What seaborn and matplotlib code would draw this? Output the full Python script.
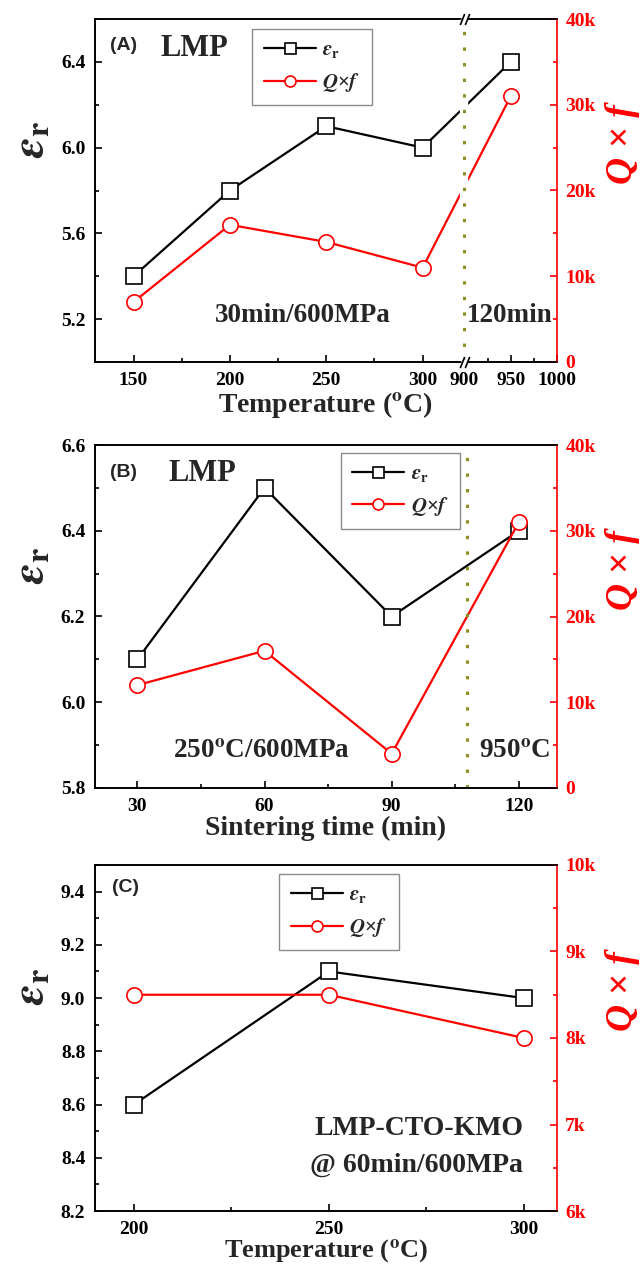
import numpy as np
import matplotlib
matplotlib.use("Agg")
import matplotlib.pyplot as plt
import matplotlib.ticker as mticker
import seaborn as sns

# Panel A: sintering temperature (30 min / 600 MPa, 950 is the 120 min reference)
a_temp = [150, 200, 250, 300, 950]
a_eps = [5.4, 5.8, 6.1, 6.0, 6.4]
a_qf = [7000, 16000, 14000, 11000, 31000]

# Panel B: sintering time (250 C / 600 MPa, 120 min at 950 C)
b_time = [30, 60, 90, 120]
b_eps = [6.1, 6.5, 6.2, 6.4]
b_qf = [12000, 16000, 4000, 31000]

# Panel C: LMP-CTO-KMO, 60 min / 600 MPa
c_temp = [200, 250, 300]
c_eps = [8.6, 9.1, 9.0]
c_qf = [8500, 8500, 8000]

sns.set_style("ticks")
plt.rcParams["font.family"] = ["Liberation Serif", "DejaVu Serif"]
plt.rcParams["font.weight"] = "bold"
plt.rcParams["axes.labelweight"] = "bold"
plt.rcParams["mathtext.fontset"] = "stix"
plt.rcParams["axes.edgecolor"] = "black"
plt.rcParams["xtick.color"] = "black"
plt.rcParams["ytick.color"] = "black"
plt.rcParams["axes.linewidth"] = 1.2

RED = "#ff0000"
OLIVE = "#8f8f25"

fig = plt.figure(figsize=(6.43, 12.64), dpi=100)
left, width = 95 / 643, 462 / 643
ax_a = fig.add_axes([left, 1 - 362 / 1264, width, 343 / 1264])
ax_b = fig.add_axes([left, 1 - 788 / 1264, width, 343 / 1264])
ax_c = fig.add_axes([left, 1 - 1211 / 1264, width, 346 / 1264])

# broken x axis for panel A: 130-322 linear, then 900-1000 compressed
def fwd(x):
    x = np.asarray(x, dtype=float)
    return np.where(x <= 600, x, 321.7 + (x - 900) * 0.48)

def inv(y):
    y = np.asarray(y, dtype=float)
    return np.where(y <= 321.7, y, 900 + (y - 321.7) / 0.48)

ax_a.set_xscale("function", functions=(fwd, inv))


def draw_panel(ax, x, eps, qf):
    ax2 = ax.twinx()
    sns.lineplot(x=x, y=eps, ax=ax, color="black", lw=1.6, marker="s",
                 markersize=11, markerfacecolor="white", markeredgecolor="black",
                 markeredgewidth=1.2, label=r"$\varepsilon_{\mathbf{r}}$")
    sns.lineplot(x=x, y=qf, ax=ax2, color=RED, lw=1.6, marker="o",
                 markersize=11, markerfacecolor="white", markeredgecolor=RED,
                 markeredgewidth=1.2, label=r"$Q$×$f$")
    for a in (ax, ax2):
        if a.get_legend() is not None:
            a.get_legend().remove()
    ax.spines["right"].set_visible(False)
    ax2.spines["right"].set_color(RED)
    ax2.spines["right"].set_linewidth(1.2)
    ax.tick_params(which="major", direction="in", length=5, width=1.2,
                   labelsize=14, pad=7, top=False, right=False)
    ax.tick_params(which="minor", direction="in", length=3, width=1.2,
                   top=False, right=False)
    ax2.tick_params(axis="y", which="major", direction="in", length=5, width=1.2,
                    labelsize=14, pad=6, colors=RED)
    ax2.tick_params(axis="y", which="minor", direction="in", length=3, width=1.2,
                    colors=RED)
    ax2.yaxis.set_major_formatter(
        mticker.FuncFormatter(lambda v, p: "0" if v == 0 else f"{v / 1000:.0f}k"))
    ax.text(-0.135, 0.65, r"$\varepsilon_{\mathbf{r}}$", transform=ax.transAxes,
            fontsize=33, rotation=90, ha="center", va="center")
    ax.text(1.142, 0.635, "Q × f", transform=ax.transAxes, fontsize=27,
            rotation=90, ha="center", va="center", color=RED,
            style="italic", weight="bold")
    return ax2


def add_legend(ax, ax2, anchor):
    h1, l1 = ax.get_legend_handles_labels()
    h2, l2 = ax2.get_legend_handles_labels()
    leg = ax2.legend(h1 + h2, l1 + l2, loc="upper left", bbox_to_anchor=anchor,
                     borderaxespad=0, fontsize=15, markerscale=0.72,
                     handlelength=2.5, handletextpad=0.3, labelspacing=0.5,
                     borderpad=0.55, fancybox=False, framealpha=1,
                     edgecolor="#8a8a8a")
    leg.get_frame().set_linewidth(1.0)


# ---- Panel A
ax2_a = draw_panel(ax_a, a_temp, a_eps, a_qf)
ax_a.set_xlim(130, 1000)
ax_a.xaxis.set_major_locator(mticker.FixedLocator([150, 200, 250, 300, 900, 950, 1000]))
ax_a.xaxis.set_minor_locator(mticker.FixedLocator([175, 225, 275, 925, 975]))
ax_a.set_ylim(5.0, 6.6)
ax_a.yaxis.set_major_locator(mticker.FixedLocator([5.2, 5.6, 6.0, 6.4]))
ax_a.yaxis.set_minor_locator(mticker.MultipleLocator(0.2))
ax_a.yaxis.set_major_formatter(mticker.FormatStrFormatter("%.1f"))
ax2_a.set_ylim(0, 40000)
ax2_a.yaxis.set_major_locator(mticker.MultipleLocator(10000))
ax2_a.yaxis.set_minor_locator(mticker.MultipleLocator(5000))
ax_a.set_xlabel(r"Temperature ($^{\mathbf{o}}$C)", fontsize=20, labelpad=1)
ax_a.set_ylabel("")
# axis break at 900
ax2_a.axvline(900, color="white", lw=6, zorder=2.1)
ax2_a.axvline(900, color=OLIVE, lw=2.2, linestyle=(0, (1.1, 4.0)), zorder=2.2)
xt = ax2_a.get_xaxis_transform()
for yy in (0, 1):
    ax2_a.plot([900], [yy], transform=xt, marker="s", ms=4, color="white",
               mec="none", ls="none", clip_on=False, zorder=6)
    ax2_a.plot([897.5, 902.5], [yy, yy], transform=xt, marker=[(-0.4, -1), (0.4, 1)],
               ms=8, mew=1.2, color="black", ls="none", clip_on=False, zorder=7)
add_legend(ax_a, ax2_a, (0.34, 0.971))
ax_a.text(0.032, 0.924, "(A)", transform=ax_a.transAxes, fontsize=14,
          family="Liberation Sans", weight="bold", va="center", ha="left")
ax_a.text(0.141, 0.915, "LMP", transform=ax_a.transAxes, fontsize=22,
          va="center", ha="left")
ax_a.text(0.26, 0.137, "30min/600MPa", transform=ax_a.transAxes, fontsize=19.5,
          va="center", ha="left")
ax_a.text(0.991, 0.137, "120min", transform=ax_a.transAxes, fontsize=19.5,
          va="center", ha="right")

# ---- Panel B
ax2_b = draw_panel(ax_b, b_time, b_eps, b_qf)
ax_b.set_xlim(20, 129)
ax_b.xaxis.set_major_locator(mticker.FixedLocator([30, 60, 90, 120]))
ax_b.xaxis.set_minor_locator(mticker.FixedLocator([45, 75, 105]))
ax_b.set_ylim(5.8, 6.6)
ax_b.yaxis.set_major_locator(mticker.MultipleLocator(0.2))
ax_b.yaxis.set_minor_locator(mticker.MultipleLocator(0.1))
ax_b.yaxis.set_major_formatter(mticker.FormatStrFormatter("%.1f"))
ax2_b.set_ylim(0, 40000)
ax2_b.yaxis.set_major_locator(mticker.MultipleLocator(10000))
ax2_b.yaxis.set_minor_locator(mticker.MultipleLocator(5000))
ax_b.set_xlabel("Sintering time (min)", fontsize=20, labelpad=1)
ax_b.set_ylabel("")
ax2_b.axvline(107.7, color=OLIVE, lw=2.2, linestyle=(0, (1.1, 4.0)), zorder=2.2)
add_legend(ax_b, ax2_b, (0.532, 0.977))
ax_b.text(0.032, 0.921, "(B)", transform=ax_b.transAxes, fontsize=14,
          family="Liberation Sans", weight="bold", va="center", ha="left")
ax_b.text(0.16, 0.918, "LMP", transform=ax_b.transAxes, fontsize=22,
          va="center", ha="left")
ax_b.text(0.169, 0.105, r"250$^{\mathbf{o}}$C/600MPa", transform=ax_b.transAxes,
          fontsize=19.5, va="center", ha="left")
ax_b.text(0.831, 0.105, r"950$^{\mathbf{o}}$C", transform=ax_b.transAxes,
          fontsize=19.5, va="center", ha="left")

# ---- Panel C
ax2_c = draw_panel(ax_c, c_temp, c_eps, c_qf)
ax_c.set_xlim(190, 308.5)
ax_c.xaxis.set_major_locator(mticker.FixedLocator([200, 250, 300]))
ax_c.xaxis.set_minor_locator(mticker.FixedLocator([225, 275]))
ax_c.set_ylim(8.2, 9.5)
ax_c.yaxis.set_major_locator(mticker.FixedLocator([8.2, 8.4, 8.6, 8.8, 9.0, 9.2, 9.4]))
ax_c.yaxis.set_minor_locator(mticker.MultipleLocator(0.1))
ax_c.yaxis.set_major_formatter(mticker.FormatStrFormatter("%.1f"))
ax2_c.set_ylim(6000, 10000)
ax2_c.yaxis.set_major_locator(mticker.MultipleLocator(1000))
ax2_c.yaxis.set_minor_locator(mticker.MultipleLocator(500))
ax_c.set_xlabel(r"Temperature ($^{\mathbf{o}}$C)", fontsize=19, labelpad=0)
ax_c.set_ylabel("")
add_legend(ax_c, ax2_c, (0.399, 0.974))
ax_c.text(0.037, 0.934, "(C)", transform=ax_c.transAxes, fontsize=14,
          family="Liberation Sans", weight="bold", va="center", ha="left")
ax_c.text(0.927, 0.237, "LMP-CTO-KMO", transform=ax_c.transAxes, fontsize=20,
          va="center", ha="right")
ax_c.text(0.927, 0.133, "@ 60min/600MPa", transform=ax_c.transAxes, fontsize=20,
          va="center", ha="right")

fig.savefig("out.png", dpi=100, facecolor="white")
